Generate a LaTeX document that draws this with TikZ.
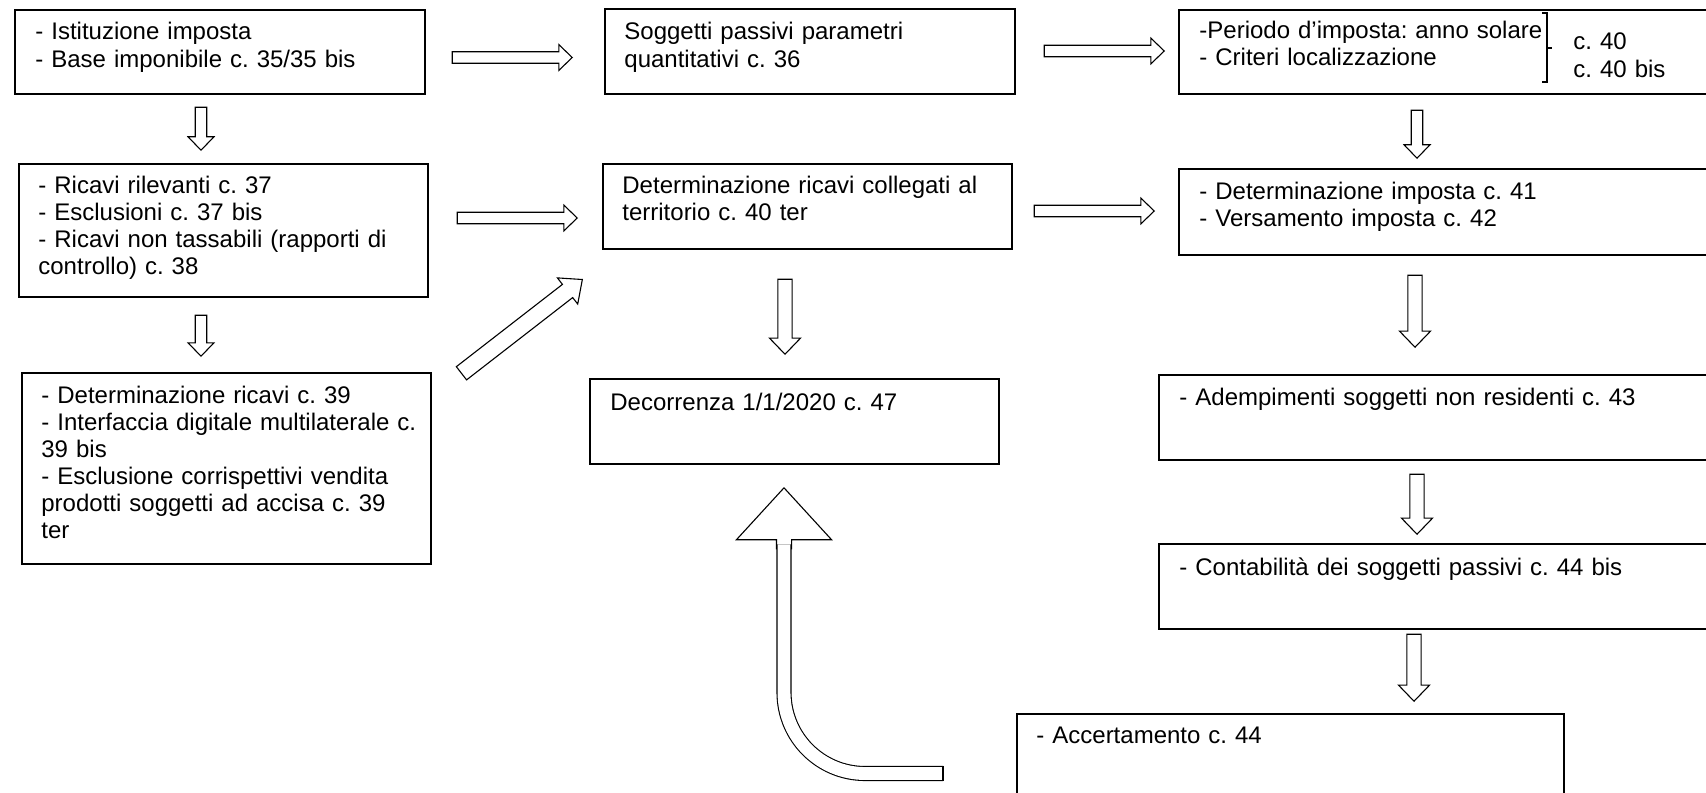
\documentclass[tikz,border=0pt]{standalone}
\usepackage{fontspec}
\setmainfont{Liberation Sans}
\usetikzlibrary{shapes.arrows,calc}
\frenchspacing

\begin{document}
\begin{tikzpicture}[x=0.5pt, y=-0.5pt,
    box/.style={draw, line width=1pt, anchor=north west, inner sep=0pt},
    txt/.style={anchor=base west, inner sep=0pt, text width=300pt, align=left,
        font=\fontsize{12}{13.5}\selectfont\frenchspacing},
    blk/.style={single arrow, draw, fill=white, line width=0.55pt, inner xsep=0pt,
        inner ysep=2.6pt, single arrow head extend=3.6pt, single arrow tip angle=88,
        anchor=tip},
    blkwide/.style={blk, inner ysep=3.3pt, single arrow head extend=4.2pt},
    shaft/.style={line width=0.55pt, double=white, double distance=6.45pt,
        rounded corners=40.5pt}]
    % Page frame
    \useasboundingbox (0,0) rectangle (1706,792);
    \fill[white] (0,0) rectangle (1706,792);
    \clip (0,0) rectangle (1706,792);

    % Left column
    \node[box, minimum width=205pt, minimum height=42pt] (istituz) at (14,9) {};
    \node[box, minimum width=204.5pt, minimum height=66.5pt] (ricavi) at (18,163) {};
    \node[box, minimum width=204.5pt, minimum height=95.5pt] (determ) at (21,372) {};

    % Middle column
    \node[box, minimum width=205pt, minimum height=42.5pt] (soggetti) at (604,8) {};
    \node[box, minimum width=204.5pt, minimum height=42.5pt] (territorio) at (602,163) {};
    \node[box, minimum width=204.5pt, minimum height=42.5pt] (decorr) at (589,378) {};

    % Right column
    \node[box, minimum width=300pt, minimum height=42pt] (periodo) at (1178,9) {};
    \node[box, minimum width=300pt, minimum height=43pt] (imposta) at (1178,168) {};
    \node[box, minimum width=310pt, minimum height=42.5pt] (adempim) at (1158,374) {};
    \node[box, minimum width=310pt, minimum height=42.5pt] (contab) at (1158,543) {};
    \node[box, minimum width=273.5pt, minimum height=60pt] (accert) at (1016,713) {};

    % Box texts
    \node[txt] (tIstituz) at ($(istituz.north west)+(21,31)$)
        {- Istituzione imposta\\- Base imponibile c. 35/35 bis};
    \node[txt] (tRicavi) at ($(ricavi.north west)+(20,30)$)
        {- Ricavi rilevanti c. 37\\- Esclusioni c. 37 bis\\- Ricavi non tassabili (rapporti di\\controllo) c. 38};
    \node[txt] (tDeterm) at ($(determ.north west)+(20,31)$)
        {- Determinazione ricavi c. 39\\- Interfaccia digitale multilaterale c.\\39 bis\\- Esclusione corrispettivi vendita\\prodotti soggetti ad accisa c. 39\\ter};
    \node[txt] (tSoggetti) at ($(soggetti.north west)+(20,32)$)
        {Soggetti passivi parametri\\quantitativi c. 36};
    \node[txt] (tTerritorio) at ($(territorio.north west)+(20,30)$)
        {Determinazione ricavi collegati al\\territorio c. 40 ter};
    \node[txt] (tDecorr) at ($(decorr.north west)+(21,32)$)
        {Decorrenza 1/1/2020 c. 47};
    \node[txt] (tPeriodo) at ($(periodo.north west)+(21,30)$)
        {-Periodo d’imposta: anno solare\\- Criteri localizzazione};
    \node[txt, font=\fontsize{12}{14}\selectfont\frenchspacing] (tCommi) at (1573,50)
        {c. 40\\c. 40 bis};
    \node[txt] (tImposta) at ($(imposta.north west)+(21,31)$)
        {- Determinazione imposta c. 41\\- Versamento imposta c. 42};
    \node[txt] (tAdempim) at ($(adempim.north west)+(21,31)$)
        {- Adempimenti soggetti non residenti c. 43};
    \node[txt] (tContab) at ($(contab.north west)+(21,32)$)
        {- Contabilità dei soggetti passivi c. 44 bis};
    \node[txt] (tAccert) at ($(accert.north west)+(20,30)$)
        {- Accertamento c. 44};

    % Bracket
    \draw[line width=0.8pt] (1542,13) -- (1547,13) -- (1547,82) -- (1542,82)
        (1547,48) -- (1552,48);

    % Horizontal arrows
    \node[blk, minimum height=60pt] (aIstSog) at (573,57.5) {};
    \node[blk, minimum height=60pt] (aSogPer) at (1165,51) {};
    \node[blk, minimum height=60pt] (aRicTer) at (578,218) {};
    \node[blk, minimum height=60pt] (aTerImp) at (1155,211) {};

    % Vertical arrows
    \node[blk, minimum height=21.5pt, rotate=-90] (aIstRic) at (201,151) {};
    \node[blk, minimum height=20.5pt, rotate=-90] (aRicDet) at (201,357) {};
    \node[blkwide, minimum height=37.5pt, rotate=-90] (aTerDec) at (785,355) {};
    \node[blk, minimum height=24pt, rotate=-90] (aPerImp) at (1417,159) {};
    \node[blkwide, minimum height=36pt, rotate=-90] (aImpAde) at (1415,348) {};
    \node[blkwide, minimum height=30pt, rotate=-90] (aAdeCon) at (1417,535) {};
    \node[blkwide, minimum height=33.5pt, rotate=-90] (aConAcc) at (1414,702) {};

    % Diagonal arrow
    \node[blk, minimum height=76.5pt, rotate=37.8, inner ysep=3.9pt,
        single arrow head extend=4.1pt, single arrow tip angle=83] (aDetTer) at (583,279) {};

    % Curved arrow up to Decorrenza
    \node[blk, minimum height=30.5pt, rotate=90, inner ysep=3.5pt,
        single arrow head extend=20pt, single arrow tip angle=85] (aUp) at (784,487) {};
    \coordinate (curveEnd) at (943,773.5);
    \draw[shaft] (curveEnd) -| ($(aUp.tail)+(0,-5)$);
    \draw[line width=0.55pt] ($(curveEnd)+(0,-7.55)$) -- ($(curveEnd)+(0,7.55)$);
\end{tikzpicture}
\end{document}
